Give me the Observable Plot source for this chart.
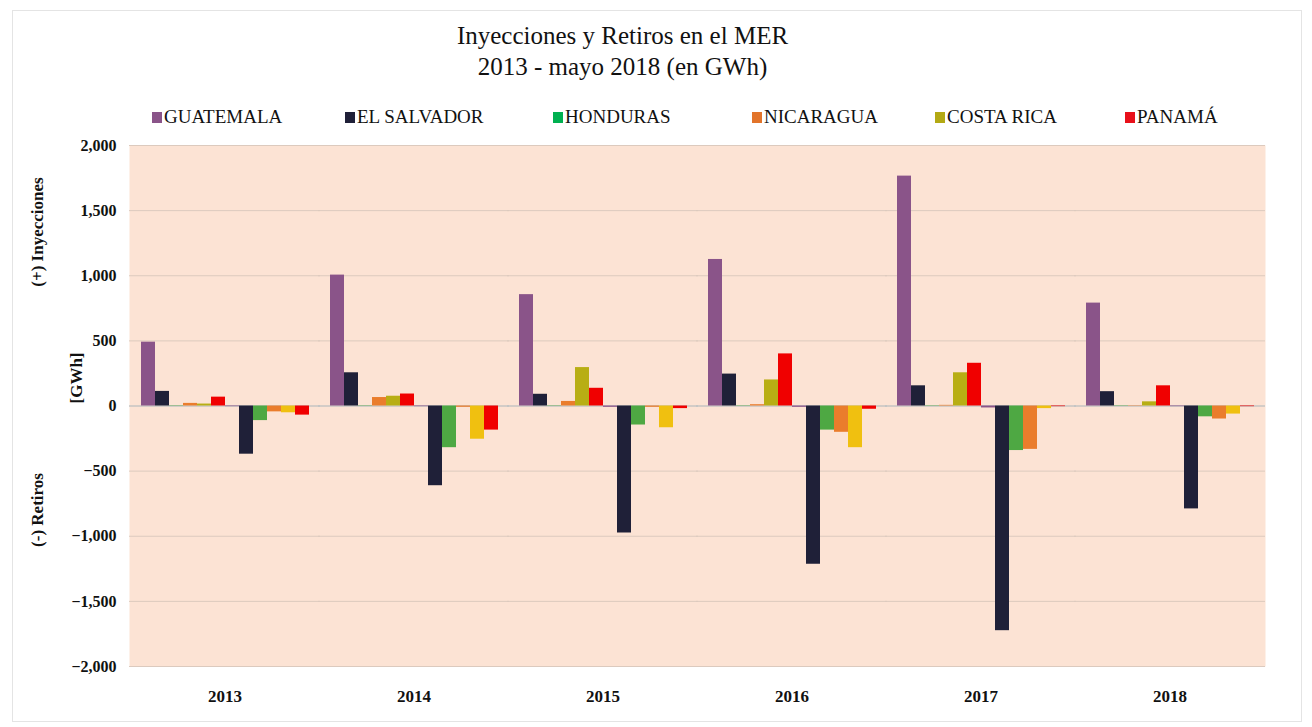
<!DOCTYPE html>
<html><head><meta charset="utf-8">
<script src="https://cdn.jsdelivr.net/npm/d3@7"></script>
<script src="https://cdn.jsdelivr.net/npm/@observablehq/plot@0.6"></script>
<style>
body{margin:0;background:#fff;font-family:"Liberation Serif","Times New Roman",serif;color:#111;}
#frame{position:absolute;left:12px;top:10px;width:1288px;height:710px;border:1px solid #e4e4e4;}
#title{position:absolute;top:20px;left:0;width:1245px;text-align:center;font-size:25px;line-height:31px;}
.leg{position:absolute;top:106px;font-size:19px;white-space:nowrap;}
.sw{display:inline-block;width:10px;height:11px;margin-right:2px;vertical-align:0px;}
#chart{position:absolute;top:130px;left:0;}
.ylab{position:absolute;font-weight:bold;font-size:17px;white-space:nowrap;transform:translate(-50%,-50%) rotate(-90deg);}
</style></head>
<body>
<div id="frame"></div>
<div id="title">Inyecciones y Retiros en el MER<br>2013 - mayo 2018 (en GWh)</div>
<div id="legend"></div>
<div class="ylab" style="left:38px;top:232px">(+) Inyecciones</div>
<div class="ylab" style="left:77px;top:378px">[GWh]</div>
<div class="ylab" style="left:38px;top:510px">(-) Retiros</div>
<div id="chart"></div>
<script>
const years = ["2013","2014","2015","2016","2017","2018"];
const countries = ["GUATEMALA","EL SALVADOR","HONDURAS","NICARAGUA","COSTA RICA","PANAMÁ"];
const legendColors = ["#8a5489","#1f2038","#00b050","#e2742a","#b3a914","#e8101a"];
const injColors = ["#8a5489","#1f2038","#4ea843","#ea7d2c","#b8ae14","#f00000"];
const retColors = ["#8a5489","#1f2038","#4ea843","#ea7d2c","#f0c010","#f00000"];

// Inyecciones (+), GWh, per year 2013..2018
const injGuatemala  = [490, 1005, 855, 1125, 1765, 790];
const injElSalvador = [112, 255, 90, 245, 155, 110];
const injHonduras   = [3, 3, 3, 3, 3, 3];
const injNicaragua  = [20, 65, 35, 10, 5, 3];
const injCostaRica  = [15, 75, 295, 200, 255, 32];
const injPanama     = [68, 92, 136, 400, 328, 155];
// Retiros (-), GWh
const retGuatemala  = [-5, -5, -10, -10, -15, -5];
const retElSalvador = [-370, -612, -975, -1215, -1725, -790];
const retHonduras   = [-112, -320, -146, -185, -342, -83];
const retNicaragua  = [-45, -10, -10, -202, -333, -100];
const retCostaRica  = [-52, -255, -167, -320, -20, -62];
const retPanama     = [-70, -185, -20, -25, -5, -5];

const injSeries = [injGuatemala, injElSalvador, injHonduras, injNicaragua, injCostaRica, injPanama];
const retSeries = [retGuatemala, retElSalvador, retHonduras, retNicaragua, retCostaRica, retPanama];
const yTicks = [-2000,-1500,-1000,-500,0,500,1000,1500,2000];

const keys = [...countries.map(c => c + " +"), ...countries.map(c => c + " -")];
const rows = [];
years.forEach((yr, j) => {
  countries.forEach((c, i) => rows.push({year: yr, key: c + " +", value: injSeries[i][j], color: injColors[i]}));
  countries.forEach((c, i) => rows.push({year: yr, key: c + " -", value: retSeries[i][j], color: retColors[i]}));
});

// legend
const legX = [152, 345, 553, 752, 935, 1125];
const leg = document.getElementById("legend");
countries.forEach((c, i) => {
  const d = document.createElement("div");
  d.className = "leg";
  d.style.left = legX[i] + "px";
  d.innerHTML = `<span class="sw" style="background:${legendColors[i]}"></span>${c}`;
  leg.appendChild(d);
});

const chart = Plot.plot({
  width: 1312, height: 590,
  marginLeft: 128, marginRight: 47, marginTop: 15, marginBottom: 54,
  style: {fontFamily: "'Liberation Serif','Times New Roman',serif", fontSize: "16px", fontWeight: "bold", color: "#111", background: "transparent"},
  fx: {domain: years, padding: 0, label: null},
  x: {domain: keys, paddingInner: 0.03, paddingOuter: 0.7, axis: null},
  y: {domain: [-2000, 2000], ticks: yTicks, tickFormat: d3.format(","), label: null, tickSize: 0, tickPadding: 14},
  color: {type: "identity"},
  marks: [
    Plot.frame({fill: "#fce3d4", stroke: null, insetLeft: -1, insetRight: -1}),
    Plot.gridY(yTicks, {stroke: "#dccabe", strokeOpacity: 1, strokeWidth: 1, insetLeft: -1, insetRight: -1}),
    Plot.ruleY([0], {stroke: "#b9c2c6", strokeWidth: 1.2, insetLeft: -1, insetRight: -1}),
    Plot.barY(rows, {fx: "year", x: "key", y: "value", fill: "color"}),
    Plot.axisFx({anchor: "bottom", tickSize: 0, tickPadding: 23, fontSize: 17, label: null})
  ]
});
document.getElementById("chart").appendChild(chart);
</script>
</body></html>
